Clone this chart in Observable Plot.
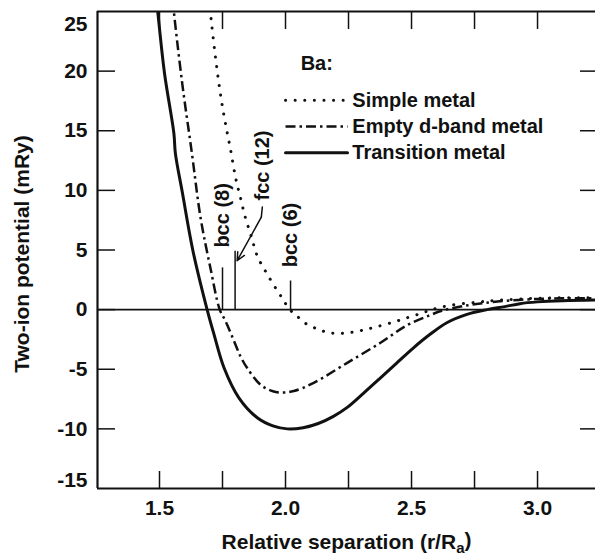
<!DOCTYPE html>
<html><head><meta charset="utf-8">
<script src="https://cdn.jsdelivr.net/npm/d3@7"></script>
<script src="https://cdn.jsdelivr.net/npm/@observablehq/plot@0.6"></script>
<style>
html,body{margin:0;padding:0;background:#fff;}
#chart svg{display:block;}
</style></head><body><div id="chart"></div>
<script>
// ---- data ----
const simpleX = [1.700, 1.702, 1.729, 1.749, 1.769, 1.782, 1.802, 1.821, 1.841, 1.864, 1.888, 1.921, 1.964, 1.992, 2.016, 2.040, 2.066, 2.099, 2.132, 2.163, 2.205, 2.25, 2.30, 2.35, 2.42, 2.48, 2.54, 2.58, 2.65, 2.75, 2.85, 3.0, 3.1, 3.23];
const simpleY = [26, 25, 20.0, 17.1, 14.8, 13.4, 11.05, 9.4, 7.7, 6.16, 4.49, 3.2, 1.7, 0.8, 0, -0.40, -0.96, -1.38, -1.66, -1.89, -2.0, -1.93, -1.75, -1.5, -1.1, -0.7, -0.3, 0.0, 0.35, 0.6, 0.8, 0.95, 1.0, 1.0];

const emptyX = [1.553, 1.557, 1.590, 1.628, 1.663, 1.702, 1.739, 1.762, 1.795, 1.821, 1.848, 1.901, 1.95, 1.993, 2.033, 2.112, 2.245, 2.377, 2.483, 2.575, 2.62, 2.68, 2.75, 2.85, 3.0, 3.1, 3.23];
const emptyY = [26, 25, 19.0, 13.2, 7.7, 3.5, 0, -0.96, -2.6, -3.9, -4.9, -6.3, -6.85, -6.95, -6.83, -6.14, -4.46, -2.78, -1.3, -0.45, -0.1, 0.2, 0.45, 0.7, 0.9, 0.95, 0.95];

const transX = [1.488, 1.493, 1.52, 1.557, 1.563, 1.59, 1.633, 1.689, 1.716, 1.756, 1.815, 1.888, 1.95, 2.007, 2.07, 2.13, 2.19, 2.245, 2.31, 2.377, 2.44, 2.508, 2.575, 2.64, 2.72, 2.80, 2.87, 2.93, 3.0, 3.1, 3.23];
const transY = [26, 25, 19.8, 14.8, 13.1, 9.9, 4.9, 0, -2.06, -4.88, -7.4, -9.07, -9.75, -10.0, -9.9, -9.55, -8.95, -8.2, -7.0, -5.72, -4.5, -3.2, -2.05, -1.1, -0.4, 0, 0.25, 0.5, 0.65, 0.75, 0.8];

const legendTitle = "Ba:";
const seriesNames = ["Simple metal", "Empty d-band metal", "Transition metal"];

const markerLabels = ["bcc (8)", "fcc (12)", "bcc (6)"];
const markerX = [1.75, 1.80, 2.02];
const markerTop = [3.5, 4.9, 2.4];

const xTickLabels = [1.5, 2.0, 2.5, 3.0];
const xTickMarks = [1.5, 1.75, 2.0, 2.25, 2.5, 2.75, 3.0];
const yTickLabels = [-15, -10, -5, 0, 5, 10, 15, 20, 25];

const xLabel = "Relative separation (r/Ra)";
const yLabel = "Two-ion potential (mRy)";

// ---- layout / style ----
const FONT = "'Liberation Sans', Arial, Helvetica, sans-serif";
const INK = "#111";
const W = 595, H = 559, ML = 97, MR = 0, MT = 11, MB = 71;
const xDomain = [1.254, 3.23];
const yDomain = [-15, 25];
const pxX = (xDomain[1] - xDomain[0]) / (W - ML - MR);
const pxY = (yDomain[1] - yDomain[0]) / (H - MT - MB);
const styles = [
  {strokeWidth: 3, strokeDasharray: "0.1,9.5", strokeLinecap: "round"},
  {strokeWidth: 2.5, strokeDasharray: "10,4,2.5,4", strokeLinecap: "butt"},
  {strokeWidth: 3, strokeDasharray: null, strokeLinecap: "round"}
];
const table = (xs, ys) => xs.map((x, i) => ({x, y: ys[i]}));
const curves = [table(simpleX, simpleY), table(emptyX, emptyY), table(transX, transY)];

const innerY = yTickLabels.filter(d => d > yDomain[0] && d < yDomain[1]);

// legend rows
const legX0 = 2.0, legX1 = 2.246, legTextX = 2.265, legY0 = 17.55, legStep = 2.2;
const legendRows = seriesNames.map((name, i) => ({name, i, y: legY0 - i * legStep}));

// annotation rows
const markers = markerLabels.map((label, i) => ({label, x: markerX[i], top: markerTop[i]}));
const labelPos = [
  {x: markerX[0], y: markerTop[0] + 1.7},
  {x: 1.909, y: 9.15},
  {x: markerX[2], y: markerTop[2] + 1.15}
];
markers.forEach((m, i) => { m.lx = labelPos[i].x; m.ly = labelPos[i].y; });

const lineMarks = curves.map((data, i) => Plot.line(data, {
  x: "x", y: "y", curve: "catmull-rom", clip: true, stroke: INK, ...styles[i]
}));
const legendLineMarks = legendRows.map(r => Plot.line([{x: legX0, y: r.y}, {x: legX1, y: r.y}], {
  x: "x", y: "y", stroke: INK, ...styles[r.i]
}));

const axisText = {fontSize: 21, fontWeight: "bold"};
const tickStyle = {stroke: INK, strokeWidth: 1.5};

const svg = Plot.plot({
  width: W, height: H,
  marginLeft: ML, marginRight: MR, marginTop: MT, marginBottom: MB,
  x: {domain: xDomain, axis: null},
  y: {domain: yDomain, axis: null},
  style: {fontFamily: FONT, fontSize: "20px", fontWeight: "bold", color: INK, background: "#fff"},
  marks: [
    // zero line
    Plot.ruleY([0], {stroke: INK, strokeWidth: 1.6}),
    // frame (top, bottom, left)
    Plot.ruleY(yDomain, {stroke: INK, strokeWidth: 2}),
    Plot.ruleX([xDomain[0]], {stroke: INK, strokeWidth: 2.2}),
    // inward ticks
    Plot.ruleX(xTickMarks, {x: d => d, y1: yDomain[0], y2: yDomain[0] + 17 * pxY, ...tickStyle}),
    Plot.ruleX(xTickMarks, {x: d => d, y1: yDomain[1] - 18 * pxY, y2: yDomain[1], ...tickStyle}),
    Plot.ruleY(innerY, {y: d => d, x1: xDomain[0], x2: xDomain[0] + 18 * pxX, ...tickStyle}),
    Plot.ruleY(innerY, {y: d => d, x1: xDomain[1] - 15 * pxX, x2: xDomain[1], ...tickStyle}),
    // tick labels
    Plot.axisX({ticks: xTickLabels, anchor: "bottom", tickSize: 0, tickPadding: 12, tickFormat: d => d.toFixed(1), label: null, ...axisText}),
    Plot.axisY({ticks: innerY, anchor: "left", tickSize: 0, tickPadding: 10, tickFormat: d => String(d), label: null, ...axisText}),
    Plot.axisY({ticks: [yDomain[1]], anchor: "left", tickSize: 0, tickPadding: 10, tickFormat: d => String(d), label: null, dy: 13, ...axisText}),
    Plot.axisY({ticks: [yDomain[0]], anchor: "left", tickSize: 0, tickPadding: 10, tickFormat: d => String(d), label: null, dy: -8, ...axisText}),
    // curves
    ...lineMarks,
    // structure markers
    Plot.ruleX(markers, {x: "x", y1: 0, y2: "top", stroke: INK, strokeWidth: 1.5}),
    Plot.text(markers, {x: "lx", y: "ly", text: "label", rotate: -90, textAnchor: "start", fill: INK, fontSize: 20}),
    Plot.line([{x: 1.908, y: 8.6}, {x: 1.904, y: 7.75}], {x: "x", y: "y", stroke: INK, strokeWidth: 1.5}),
    Plot.arrow([{x1: 1.904, y1: 7.75, x2: 1.808, y2: 4.1}], {x1: "x1", y1: "y1", x2: "x2", y2: "y2", stroke: INK, strokeWidth: 1.5, headLength: 9, headAngle: 50}),
    // legend
    Plot.text([legendTitle], {x: 2.06, y: 20.6, text: d => d, textAnchor: "start", fill: INK, fontSize: 20}),
    ...legendLineMarks,
    Plot.text(legendRows, {x: () => legTextX, y: "y", text: "name", textAnchor: "start", fill: INK, fontSize: 20}),
    // axis titles
    Plot.text([yLabel], {frameAnchor: "left", dx: -75, dy: 4, rotate: -90, textAnchor: "middle", text: d => d, fill: INK, fontSize: 21}),
    Plot.text([xLabel], {frameAnchor: "bottom", dy: 60, lineAnchor: "bottom", textAnchor: "middle", text: d => d, fill: INK, fontSize: 21})
  ]
});

// subscript "a" in the x-axis title
svg.querySelectorAll("text").forEach(t => {
  if (t.textContent === xLabel) {
    t.textContent = "";
    t.appendChild(document.createTextNode("Relative separation (r/R"));
    const sub = document.createElementNS("http://www.w3.org/2000/svg", "tspan");
    sub.setAttribute("dy", "0.3em"); sub.setAttribute("font-size", "15");
    sub.textContent = "a";
    const close = document.createElementNS("http://www.w3.org/2000/svg", "tspan");
    close.setAttribute("dy", "-0.3em");
    close.textContent = ")";
    t.appendChild(sub); t.appendChild(close);
  }
});

document.getElementById("chart").appendChild(svg);
</script>
</body></html>
